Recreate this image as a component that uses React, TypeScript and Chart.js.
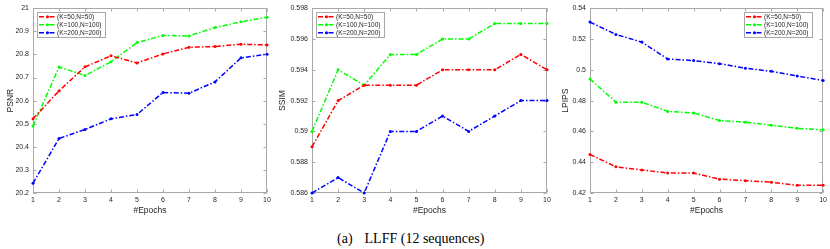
import React, { useEffect, useRef } from 'react';
import { Chart, registerables } from 'chart.js';

Chart.register(...registerables);

const epochs = [1, 2, 3, 4, 5, 6, 7, 8, 9, 10];
const seriesLabels = ['(K=50,N=50)', '(K=100,N=100)', '(K=200,N=200)'];
const seriesColors = ['#ff0000', '#00ff00', '#0000ff'];

const psnrK50 = [20.521, 20.642, 20.746, 20.794, 20.763, 20.802, 20.831, 20.834, 20.844, 20.841];
const psnrK100 = [20.49, 20.745, 20.709, 20.768, 20.851, 20.882, 20.88, 20.916, 20.941, 20.961];
const psnrK200 = [20.242, 20.436, 20.475, 20.521, 20.54, 20.635, 20.632, 20.681, 20.785, 20.801];

const ssimK50 = [0.589, 0.592, 0.593, 0.593, 0.593, 0.594, 0.594, 0.594, 0.595, 0.594];
const ssimK100 = [0.59, 0.594, 0.593, 0.595, 0.595, 0.596, 0.596, 0.597, 0.597, 0.597];
const ssimK200 = [0.586, 0.587, 0.586, 0.59, 0.59, 0.591, 0.59, 0.591, 0.592, 0.592];

const lpipsK50 = [0.445, 0.437, 0.435, 0.433, 0.433, 0.429, 0.428, 0.427, 0.425, 0.425];
const lpipsK100 = [0.494, 0.479, 0.479, 0.473, 0.472, 0.467, 0.466, 0.464, 0.462, 0.461];
const lpipsK200 = [0.531, 0.523, 0.518, 0.507, 0.506, 0.504, 0.501, 0.499, 0.496, 0.493];

const xTitle = '#Epochs';
const captionTag = '(a)';
const captionText = 'LLFF (12 sequences)';

type PanelDef = {
  yTitle: string;
  series: number[][];
  yMin: number;
  yMax: number;
  yStep: number;
  legendSide: 'left' | 'right';
  canvasLeft: number;
  canvasWidth: number;
  plotLeft: number;
  rightPad: number;
  titlePad: number;
};

const panels: PanelDef[] = [
  { yTitle: 'PSNR', series: [psnrK50, psnrK100, psnrK200], yMin: 20.2, yMax: 21, yStep: 0.1, legendSide: 'left', canvasLeft: 0, canvasWidth: 280, plotLeft: 33, rightPad: 13, titlePad: 5.9 },
  { yTitle: 'SSIM', series: [ssimK50, ssimK100, ssimK200], yMin: 0.586, yMax: 0.598, yStep: 0.002, legendSide: 'left', canvasLeft: 274, canvasWidth: 281, plotLeft: 38, rightPad: 8, titlePad: 3.9 },
  { yTitle: 'LPIPS', series: [lpipsK50, lpipsK100, lpipsK200], yMin: 0.42, yMax: 0.54, yStep: 0.02, legendSide: 'right', canvasLeft: 555, canvasWidth: 275, plotLeft: 35, rightPad: 6, titlePad: 5.9 },
];

const CANVAS_H = 220;
const PLOT_TOP = 8;
const PLOT_BOTTOM = 193;
const AXIS_COLOR = '#a8a8a8';
const TEXT_COLOR = '#262626';
const FONT = '"Liberation Sans", Arial, sans-serif';
const DASH = [5, 2, 1.5, 2];

const fmt = (v: any) => String(parseFloat(Number(v).toFixed(4)));

const framePlugin = {
  id: 'frameTicks',
  beforeDatasetsDraw(chart: any) {
    const { ctx, chartArea: a, scales } = chart;
    ctx.save();
    ctx.strokeStyle = AXIS_COLOR;
    ctx.lineWidth = 1;
    const L = Math.round(a.left) + 0.5;
    const R = Math.round(a.right) - 0.5;
    const T = Math.round(a.top) + 0.5;
    const B = Math.round(a.bottom) - 0.5;
    ctx.strokeRect(L, T, R - L, B - T);
    const tl = 3;
    ctx.beginPath();
    for (const t of scales.x.ticks) {
      const px = Math.round(scales.x.getPixelForValue(t.value)) + 0.5;
      ctx.moveTo(px, B);
      ctx.lineTo(px, B - tl);
      ctx.moveTo(px, T);
      ctx.lineTo(px, T + tl);
    }
    for (const t of scales.y.ticks) {
      const py = Math.round(scales.y.getPixelForValue(t.value)) + 0.5;
      ctx.moveTo(L, py);
      ctx.lineTo(L + tl, py);
      ctx.moveTo(R, py);
      ctx.lineTo(R - tl, py);
    }
    ctx.stroke();
    ctx.restore();
  },
  afterDatasetsDraw(chart: any, _args: any, opts: any) {
    const { ctx, chartArea: a } = chart;
    ctx.save();
    ctx.font = `6.5px ${FONT}`;
    const labels = chart.data.datasets.map((d: any) => d.label as string);
    const tw = Math.max(...labels.map((s: string) => ctx.measureText(s).width));
    const w = Math.round(21 + tw + 3);
    const h = 25;
    const x = opts.side === 'right' ? Math.round(a.right - 11 - w) : Math.round(a.left + 4);
    const y = Math.round(a.top + 4);
    ctx.fillStyle = '#ffffff';
    ctx.fillRect(x, y, w, h);
    ctx.strokeStyle = AXIS_COLOR;
    ctx.lineWidth = 1;
    ctx.strokeRect(x + 0.5, y + 0.5, w, h);
    chart.data.datasets.forEach((d: any, i: number) => {
      const cy = y + 4.8 + i * 8;
      ctx.strokeStyle = d.borderColor;
      ctx.lineWidth = 1.5;
      ctx.setLineDash(DASH);
      ctx.beginPath();
      ctx.moveTo(x + 2, cy);
      ctx.lineTo(x + 19, cy);
      ctx.stroke();
      ctx.setLineDash([]);
      ctx.fillStyle = d.borderColor;
      ctx.beginPath();
      ctx.arc(x + 10.5, cy, 1.5, 0, Math.PI * 2);
      ctx.fill();
      ctx.fillStyle = TEXT_COLOR;
      ctx.textBaseline = 'middle';
      ctx.textAlign = 'left';
      ctx.fillText(d.label, x + 20, cy + 0.3);
    });
    ctx.restore();
  },
};

function Panel({ def }: { def: PanelDef }) {
  const ref = useRef<HTMLCanvasElement | null>(null);
  useEffect(() => {
    if (!ref.current) return;
    const chart = new Chart(ref.current, {
      type: 'line',
      data: {
        labels: epochs,
        datasets: def.series.map((vals, i) => ({
          label: seriesLabels[i],
          data: epochs.map((e, j) => ({ x: e, y: vals[j] })),
          borderColor: seriesColors[i],
          backgroundColor: seriesColors[i],
          borderWidth: 1.5,
          borderDash: DASH,
          pointRadius: 1.5,
          pointBorderWidth: 0,
          pointStyle: 'circle',
          fill: false,
          tension: 0,
          clip: false,
        })),
      },
      options: {
        animation: false,
        responsive: false,
        devicePixelRatio: 1,
        layout: { padding: { top: PLOT_TOP, right: def.rightPad, bottom: 0, left: 0 } },
        plugins: {
          legend: { display: false },
          tooltip: { enabled: false },
          frameTicks: { side: def.legendSide },
        } as any,
        scales: {
          x: {
            type: 'linear',
            min: 1,
            max: 10,
            grid: { display: false, drawTicks: false, tickLength: 0 },
            border: { display: false },
            ticks: {
              stepSize: 1,
              autoSkip: false,
              maxRotation: 0,
              padding: 3,
              color: TEXT_COLOR,
              font: { family: FONT, size: 7 },
              callback: (v: any) => fmt(v),
            },
            title: {
              display: true,
              text: xTitle,
              color: TEXT_COLOR,
              font: { family: FONT, size: 8.5 },
              padding: { top: 0, bottom: 3.9 },
            },
            afterFit: (s: any) => {
              s.height = CANVAS_H - PLOT_BOTTOM;
            },
          },
          y: {
            type: 'linear',
            min: def.yMin,
            max: def.yMax,
            grid: { display: false, drawTicks: false, tickLength: 0 },
            border: { display: false },
            ticks: {
              stepSize: def.yStep,
              autoSkip: false,
              padding: 4,
              color: TEXT_COLOR,
              font: { family: FONT, size: 7 },
              callback: (v: any) => fmt(v),
            },
            title: {
              display: true,
              text: def.yTitle,
              color: TEXT_COLOR,
              font: { family: FONT, size: 8.5 },
              padding: { top: def.titlePad, bottom: 0 },
            },
            afterFit: (s: any) => {
              s.width = def.plotLeft;
            },
          },
        },
      } as any,
      plugins: [framePlugin],
    });
    return () => chart.destroy();
  }, [def]);
  return (
    <canvas
      ref={ref}
      width={def.canvasWidth}
      height={CANVAS_H}
      style={{ position: 'absolute', left: def.canvasLeft, top: 0, width: def.canvasWidth, height: CANVAS_H }}
    />
  );
}

export default function App() {
  useEffect(() => {
    document.body.style.margin = '0';
  }, []);
  return (
    <div style={{ position: 'relative', width: 830, height: 249, background: '#ffffff', overflow: 'hidden' }}>
      {panels.map((p) => (
        <Panel key={p.yTitle} def={p} />
      ))}
      <div
        style={{
          position: 'absolute',
          left: 337,
          top: 230,
          fontFamily: '"Liberation Serif", "Times New Roman", serif',
          fontSize: 14,
          lineHeight: '17px',
          color: '#000',
          whiteSpace: 'pre',
        }}
      >
        <span>{captionTag}</span>
        <span style={{ marginLeft: 12 }}>{captionText}</span>
      </div>
    </div>
  );
}
